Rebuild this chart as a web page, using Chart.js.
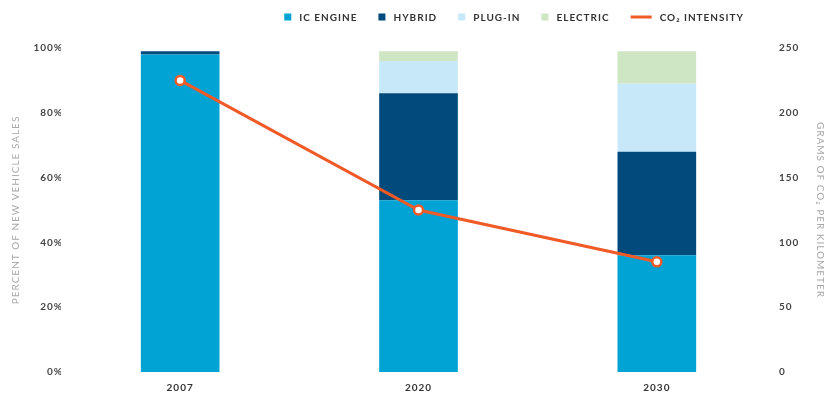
<!DOCTYPE html>
<html>
<head>
<meta charset="utf-8">
<script src="https://cdn.jsdelivr.net/npm/chart.js@4.4.1/dist/chart.umd.min.js"></script>
<style>
  html, body { margin: 0; padding: 0; background: #fff; }
  #wrap { width: 828px; height: 395px; }
</style>
</head>
<body>
<div id="wrap"><canvas id="salesChart" width="828" height="395"></canvas></div>
<script>
// values
const years = ['2007', '2020', '2030'];
const icEngine = [98, 53, 36];
const hybrid = [1, 33, 32];
const plugIn = [0, 10, 21];
const electric = [0, 3, 10];
const co2Intensity = [225, 125, 85];

const seriesLabels = ['IC ENGINE', 'HYBRID', 'PLUG-IN', 'ELECTRIC', 'CO\u2082 INTENSITY'];
const seriesColors = ['#00a3d3', '#004b7b', '#c7e8f8', '#cfe6c4', '#f05a26'];

const percentTicks = [0, 20, 40, 60, 80, 100];
const gramTicks = [0, 50, 100, 150, 200, 250];

const FONT = 'Lato, "Open Sans", sans-serif';

// canvas letter spacing (reset whenever the canvas is resized)
const spacing = {
  id: 'spacing',
  beforeUpdate(chart) { chart.ctx.letterSpacing = '1px'; },
  beforeDraw(chart) { chart.ctx.letterSpacing = '1px'; }
};

// legend row at the top right
const topLegend = {
  id: 'topLegend',
  afterDraw(chart) {
    const ctx = chart.ctx;
    ctx.save();
    ctx.letterSpacing = '1px';
    ctx.font = 'bold 10px ' + FONT;
    ctx.textBaseline = 'middle';
    ctx.textAlign = 'left';
    const y = 17;
    const items = chart.data.datasets.slice().sort((a, b) => a.legendIdx - b.legendIdx);
    const widths = items.map(ds => (ds.type === 'line' ? 21 : 7) + 8 + ctx.measureText(ds.label).width);
    const gap = 21;
    const total = widths.reduce((a, b) => a + b, 0) + gap * (items.length - 1);
    let x = 744 - total;
    items.forEach((ds, i) => {
      if (ds.type === 'line') {
        ctx.strokeStyle = ds.borderColor;
        ctx.lineWidth = 3;
        ctx.beginPath();
        ctx.moveTo(x, y);
        ctx.lineTo(x + 21, y);
        ctx.stroke();
        ctx.fillStyle = '#333';
        ctx.fillText(ds.label, x + 29, y + 1);
      } else {
        ctx.fillStyle = ds.backgroundColor;
        ctx.fillRect(x, y - 3.5, 7, 7);
        ctx.fillStyle = '#333';
        ctx.fillText(ds.label, x + 15, y + 1);
      }
      x += widths[i] + gap;
    });
    ctx.restore();
  }
};

const ctx = document.getElementById('salesChart').getContext('2d');

const barSet = (label, data, color, idx) => ({
  type: 'bar',
  label: label,
  data: data,
  backgroundColor: color,
  borderWidth: 0,
  yAxisID: 'y',
  stack: 'sales',
  order: 1,
  legendIdx: idx,
  barPercentage: 0.33,
  categoryPercentage: 1
});

new Chart(ctx, {
  data: {
    labels: years,
    datasets: [
      barSet(seriesLabels[0], icEngine, seriesColors[0], 0),
      barSet(seriesLabels[1], hybrid, seriesColors[1], 1),
      barSet(seriesLabels[2], plugIn, seriesColors[2], 2),
      barSet(seriesLabels[3], electric, seriesColors[3], 3),
      {
        type: 'line',
        label: seriesLabels[4],
        data: co2Intensity,
        borderColor: seriesColors[4],
        backgroundColor: seriesColors[4],
        borderWidth: 3,
        pointRadius: 4.5,
        pointBorderWidth: 2.5,
        pointBackgroundColor: '#ffffff',
        pointBorderColor: seriesColors[4],
        yAxisID: 'y1',
        order: 0,
        legendIdx: 4,
        tension: 0
      }
    ]
  },
  options: {
    responsive: false,
    animation: false,
    layout: { padding: { top: 48, bottom: 0, left: 0, right: 0 } },
    plugins: {
      legend: { display: false },
      tooltip: { enabled: false }
    },
    scales: {
      x: {
        stacked: true,
        afterFit: s => { s.height = 23; },
        grid: { display: false, drawTicks: false },
        border: { display: false },
        ticks: { color: '#333', font: { family: FONT, size: 10, weight: 'bold' }, padding: 10 }
      },
      y: {
        position: 'left',
        stacked: true,
        min: 0,
        max: 100,
        afterBuildTicks: s => { s.ticks = percentTicks.map(v => ({ value: v })); },
        afterFit: s => { s.width = 61; },
        grid: { display: false, drawTicks: false },
        border: { display: false },
        ticks: {
          color: '#444',
          font: { family: FONT, size: 10, weight: 'bold' },
          padding: -2,
          callback: v => v + '%'
        },
        title: {
          display: true,
          text: 'PERCENT OF NEW VEHICLE SALES',
          color: '#a8a8a8',
          font: { family: FONT, size: 10 },
          padding: { top: 10, bottom: 0 }
        }
      },
      y1: {
        position: 'right',
        stacked: false,
        min: 0,
        max: 250,
        afterBuildTicks: s => { s.ticks = gramTicks.map(v => ({ value: v })); },
        afterFit: s => { s.width = 52; },
        grid: { display: false, drawTicks: false },
        border: { display: false },
        ticks: {
          color: '#444',
          font: { family: FONT, size: 10, weight: 'bold' },
          padding: 3
        },
        title: {
          display: true,
          text: 'GRAMS OF CO\u2082 PER KILOMETER',
          color: '#a8a8a8',
          font: { family: FONT, size: 10 },
          padding: { top: 2, bottom: 0 }
        }
      }
    }
  },
  plugins: [spacing, topLegend]
});
</script>
</body>
</html>
